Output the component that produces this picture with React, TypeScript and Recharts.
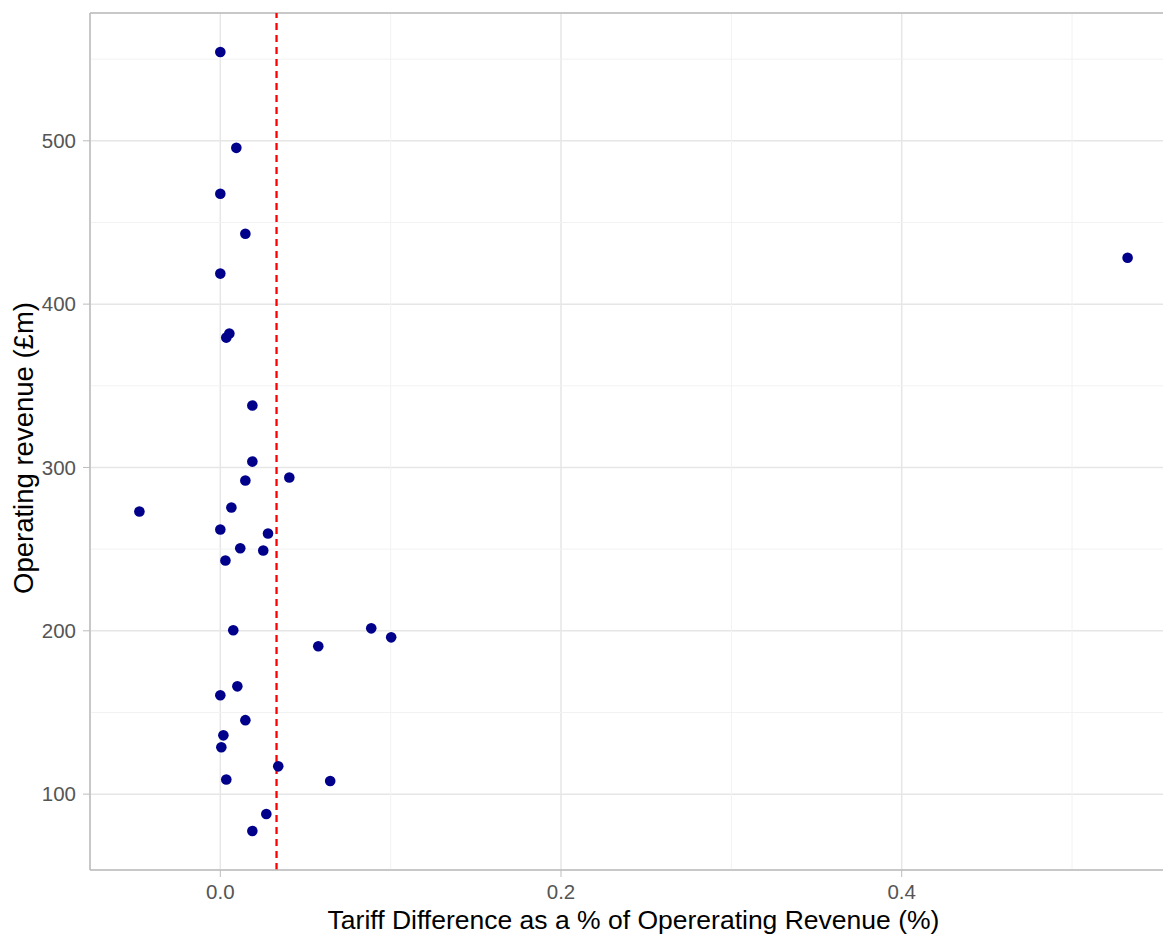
import React from "react";
import {
  ScatterChart,
  Scatter,
  XAxis,
  YAxis,
  CartesianGrid,
  ReferenceLine,
} from "recharts";

// tariff difference as % of operating revenue, and operating revenue (£m)
const tariffDiff = [
  0.0, 0.0094, 0.0, 0.0147, 0.0, 0.0035, 0.0053, 0.0188, 0.0188, 0.0405, 0.0147,
  -0.0475, 0.0065, 0.0, 0.028, 0.0117, 0.0252, 0.003, 0.0076, 0.0886, 0.1003,
  0.0575, 0.01, 0.0, 0.0147, 0.0018, 0.0006, 0.034, 0.0035, 0.0645, 0.027, 0.0188,
  0.5326,
];
const revenue = [
  554.4, 495.7, 467.6, 443.1, 418.7, 379.5, 382, 337.9, 303.6, 293.9, 292, 273,
  275.5, 262, 259.6, 250.5, 249.2, 243, 200.3, 201.5, 196, 190.5, 166, 160.5,
  145.3, 136, 128.7, 117, 109, 108, 87.8, 77.4, 428.4,
];

const meanDiff = 0.033;

const xMajor = [0, 0.2, 0.4];
const xMinor = [0.1, 0.3, 0.5];
const yMajor = [100, 200, 300, 400, 500];
const yMinor = [150, 250, 350, 450, 550];

const xDomain: [number, number] = [-0.0765, 0.5616];
const yDomain: [number, number] = [53.55, 578.25];

const points = tariffDiff.map((x, i) => ({ x, y: revenue[i] }));

const FONT = "'Liberation Sans', Arial, sans-serif";
const BORDER = "#BDBDBD";
const TICK_TEXT = "#555555";

const Dot = (props: any) => (
  <circle cx={props.cx} cy={props.cy} r={5.3} fill="#00008B" />
);

const YTitle = () => (
  <text
    transform="translate(33, 448) rotate(-90)"
    textAnchor="middle"
    fill="#000"
    fontSize={27.5}
    fontFamily={FONT}
  >
    Operating revenue (£m)
  </text>
);

export default function App() {
  return (
    <div
      style={{
        position: "absolute",
        left: 0,
        top: 0,
        width: 1163,
        height: 934,
        overflow: "hidden",
        background: "#fff",
      }}
    >
      <ScatterChart
        width={1177}
        height={934}
        margin={{ top: 13, right: 0, bottom: 0, left: 0 }}
        style={{ fontFamily: FONT }}
      >
        <CartesianGrid stroke="#E6E6E6" strokeWidth={1.5} />
        {xMinor.map((v) => (
          <ReferenceLine key={"xm" + v} x={v} stroke="#F2F2F2" strokeWidth={1} />
        ))}
        {yMinor.map((v) => (
          <ReferenceLine key={"ym" + v} y={v} stroke="#F2F2F2" strokeWidth={1} />
        ))}
        <XAxis
          type="number"
          dataKey="x"
          domain={xDomain}
          allowDataOverflow
          ticks={xMajor}
          tickFormatter={(v: number) => v.toFixed(1)}
          height={64}
          stroke={BORDER}
          tickSize={7}
          tickMargin={7}
          tick={{ fill: TICK_TEXT, fontSize: 20.5 }}
          axisLine={{ stroke: BORDER, strokeWidth: 1.5 }}
          label={{
            value: "Tariff Difference as a % of Opererating Revenue (%)",
            position: "insideBottom",
            offset: 5,
            style: { fill: "#000", fontSize: 26.5, textAnchor: "middle" },
          }}
        />
        <YAxis
          type="number"
          dataKey="y"
          domain={yDomain}
          allowDataOverflow
          ticks={yMajor}
          width={90}
          stroke={BORDER}
          tickSize={7}
          tickMargin={7}
          tick={{ fill: TICK_TEXT, fontSize: 20.5 }}
          axisLine={{ stroke: BORDER, strokeWidth: 1.5 }}
          label={{ content: <YTitle /> }}
        />
        <ReferenceLine y={yDomain[1]} stroke={BORDER} strokeWidth={1.5} />
        <ReferenceLine
          x={meanDiff}
          stroke="#FF0000"
          strokeWidth={2.3}
          strokeDasharray="7 5"
        />
        <Scatter data={points} shape={Dot} isAnimationActive={false} />
      </ScatterChart>
    </div>
  );
}
